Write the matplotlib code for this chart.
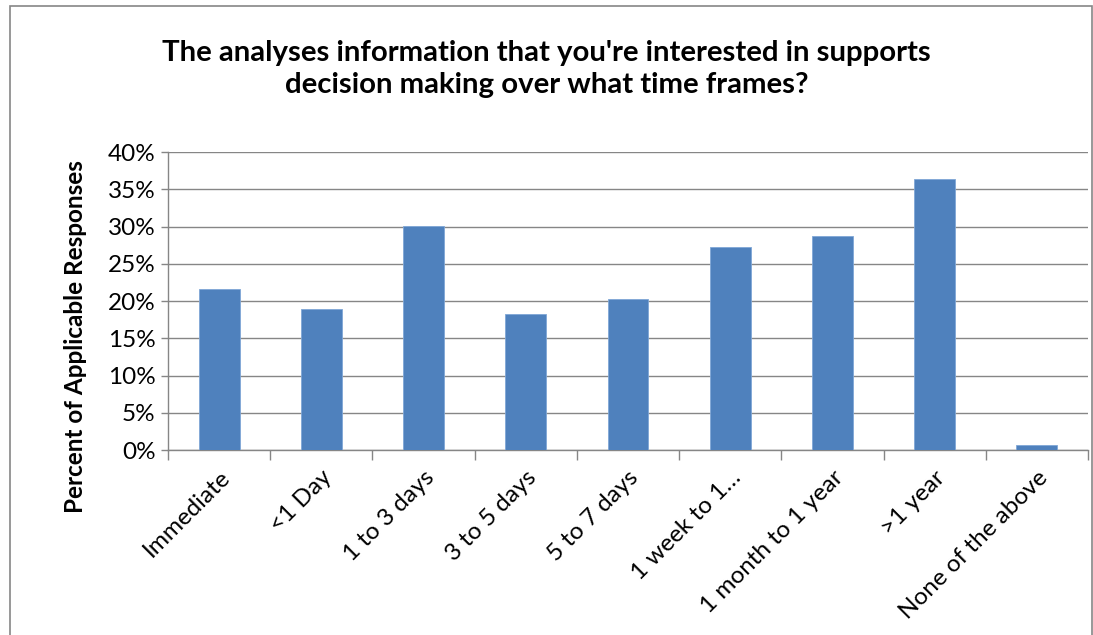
import matplotlib
matplotlib.use("Agg")
import matplotlib.pyplot as plt
from matplotlib.patches import Rectangle
from matplotlib.ticker import FuncFormatter, MultipleLocator
import numpy as np

categories = ["Immediate", "<1 Day", "1 to 3 days", "3 to 5 days", "5 to 7 days",
              "1 week to 1…", "1 month to 1 year", ">1 year", "None of the above"]
values = [21.6, 18.9, 30.1, 18.2, 20.3, 27.3, 28.7, 36.4, 0.7]

title = "The analyses information that you're interested in supports\ndecision making over what time frames?"
ylabel = "Percent of Applicable Responses"

plt.rcParams['font.family'] = ['Lato', 'DejaVu Sans']

fig = plt.figure(figsize=(10.93, 6.35), dpi=100)
ax = fig.add_axes([0.1537, 0.2913, 0.8417, 0.4693])

x = np.arange(len(categories))
ax.bar(x, values, width=0.4, color="#4F81BD", edgecolor="#7FA6D6", linewidth=0.6, zorder=3)

ax.set_xlim(-0.5, len(categories) - 0.5)
ax.set_ylim(0, 40)
ax.yaxis.set_major_locator(MultipleLocator(5))
ax.yaxis.set_major_formatter(FuncFormatter(lambda v, p: f"{int(round(v))}%"))
ax.grid(axis="y", color="#868686", linewidth=1.0, zorder=0)

ax.set_xticks(x)
ax.set_xticklabels(categories, rotation=45, ha="right", va="top", rotation_mode="anchor", fontsize=17.5)
ax.tick_params(axis="x", length=0, pad=12)
ax.set_xticks(np.arange(-0.5, len(categories)), minor=True)
ax.tick_params(axis="x", which="minor", length=7, color="#868686", width=1.0)
ax.tick_params(axis="y", labelsize=17.5, length=5, color="#868686", width=1.0, pad=4)

for s in ["top", "right"]:
    ax.spines[s].set_visible(False)
for s in ["left", "bottom"]:
    ax.spines[s].set_color("#868686")
    ax.spines[s].set_linewidth(1.0)

ax.set_ylabel(ylabel, fontsize=17.5, fontweight="bold", va="center")
ax.yaxis.set_label_coords(-0.101, 0.38)
fig.text(0.5, 0.891, title, ha="center", va="center", fontsize=21.2, fontweight="bold", linespacing=1.27)

fig.patches.append(Rectangle((0.009, -0.01), 0.99, 1.0, transform=fig.transFigure,
                             fill=False, edgecolor="#868686", linewidth=1.2))

fig.savefig("out.png", dpi=100)
